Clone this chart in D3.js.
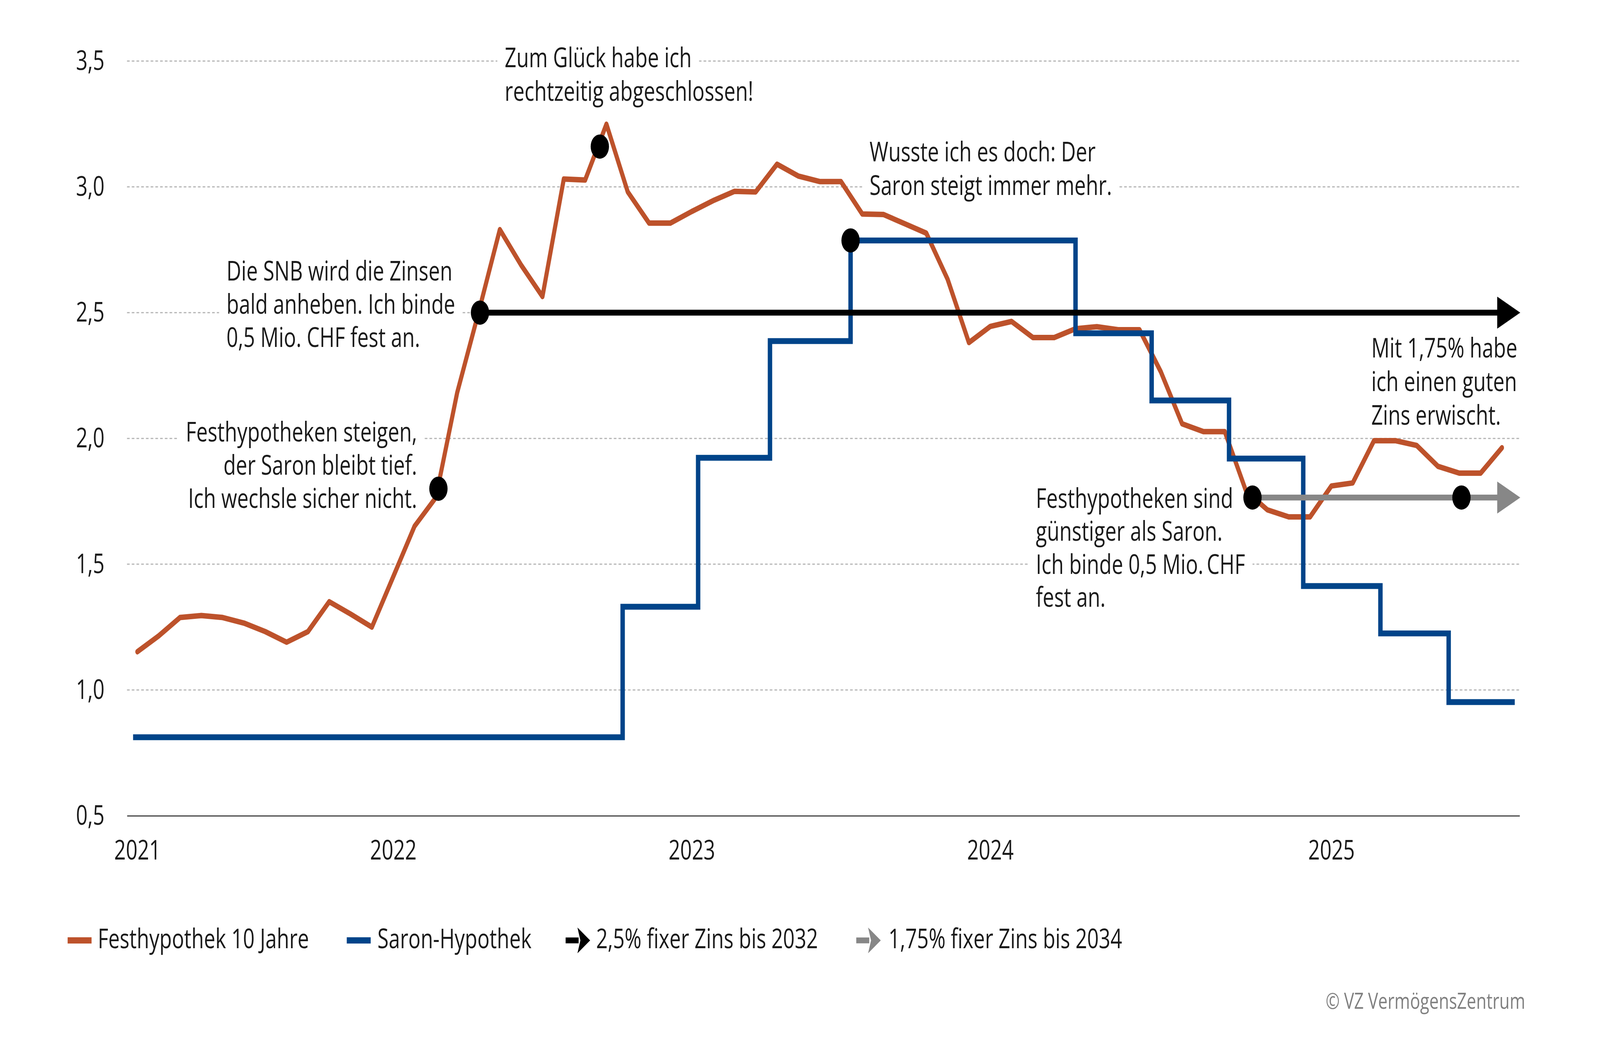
<!DOCTYPE html>
<html>
<head>
<meta charset="utf-8">
<script src="https://cdn.jsdelivr.net/npm/d3@7"></script>
<style>
  html, body { margin: 0; padding: 0; background: #ffffff; overflow: hidden; width: 100%; height: 100%; }
  svg { display: block; width: 100vw; height: 100vh; }
  text { font-family: "Open Sans", "Noto Sans", sans-serif; }
</style>
</head>
<body>
<svg id="chart" viewBox="0 0 5417 2708" preserveAspectRatio="none"></svg>
<script>
// ---------------- DATA ----------------
// Festhypothek 10 Jahre (one value per period, index 0 = start of 2021)
const festValues = [
  1.152, 1.215, 1.288, 1.296, 1.288, 1.266, 1.232, 1.190, 1.232, 1.351,
  1.302, 1.250, 1.450, 1.651, 1.765, 2.182, 2.500, 2.830, 2.689, 2.564,
  3.031, 3.027, 3.249, 2.980, 2.856, 2.856, 2.902, 2.945, 2.982, 2.980,
  3.090, 3.043, 3.021, 3.021, 2.892, 2.890, 2.853, 2.816, 2.633, 2.381,
  2.445, 2.465, 2.401, 2.401, 2.436, 2.444, 2.432, 2.432, 2.265, 2.058,
  2.027, 2.027, 1.790, 1.716, 1.688, 1.688, 1.811, 1.823, 1.991, 1.991,
  1.972, 1.889, 1.862, 1.862, 1.963
];
// Saron-Hypothek: step start (period index) and level
const saronStart  = [-0.2, 22.76, 26.3, 29.67, 33.45, 44.0, 47.57, 51.2, 54.68, 58.3, 61.5];
const saronLevels = [0.812, 1.331, 1.923, 2.387, 2.787, 2.418, 2.151, 1.920, 1.413, 1.225, 0.952];
const saronEnd = 64.6;

// Fixed-rate arrows
const fixLevels = [2.5, 1.765];
const fixStart  = [16.07, 52.3];
const fixNames  = ["2,5% fixer Zins bis 2032", "1,75% fixer Zins bis 2034"];

// Event dots
const dotIndex  = [14.12, 16.07, 21.69, 33.45, 52.3, 62.1];
const dotValues = [1.80, 2.5, 3.16, 2.787, 1.765, 1.765];

// Axes
const yTicks = [0.5, 1.0, 1.5, 2.0, 2.5, 3.0, 3.5];
const yearLabels = ["2021", "2022", "2023", "2024", "2025"];
const yearIndex  = [0, 12, 26, 40, 56];

// Series names
const seriesNames = ["Festhypothek 10 Jahre", "Saron-Hypothek"];

// Annotation texts
const noteA = ["Festhypotheken steigen,", "der Saron bleibt tief.", "Ich wechsle sicher nicht."];
const noteB = ["Die SNB wird die Zinsen", "bald anheben. Ich binde", "0,5 Mio. CHF fest an."];
const noteC = ["Zum Glück habe ich", "rechtzeitig abgeschlossen!"];
const noteD = ["Wusste ich es doch: Der", "Saron steigt immer mehr."];
const noteE = ["Festhypotheken sind", "günstiger als Saron.", "Ich binde 0,5 Mio.\u2009CHF", "fest an."];
const noteF = ["Mit 1,75% habe", "ich einen guten", "Zins erwischt."];
const sourceText = "© VZ VermögensZentrum";

// ---------------- STYLE / LAYOUT ----------------
const COL_FEST = "#BD522B";
const COL_SARON = "#004489";
const COL_BLACK = "#000000";
const COL_GREY = "#878787";
const COL_TEXT = "#1a1a1a";
const FS = 69;

const svg = d3.select("#chart");
svg.append("rect").attr("width", 5417).attr("height", 2708).attr("fill", "#fff");

const x = d3.scaleLinear().domain([-0.485, 64.83]).range([430, 5145]);
const y = d3.scaleLinear().domain([0.5, 3.5]).range([2088, 156.3]);

const gridLayer = svg.append("g");
const boxLayer = svg.append("g");
const textLayer = svg.append("g");
const dataLayer = svg.append("g");
const axisLayer = svg.append("g");

// gridlines
gridLayer.selectAll("line.grid")
  .data(yTicks.filter(t => t > 0.5))
  .join("line")
  .attr("x1", x.range()[0]).attr("x2", x.range()[1])
  .attr("y1", d => y(d)).attr("y2", d => y(d))
  .attr("stroke", "#b5b5b5").attr("stroke-width", 3)
  .attr("stroke-dasharray", "9,7");

// y axis labels
const yAxis = d3.axisLeft(y).tickValues(yTicks).tickSize(0).tickPadding(76)
  .tickFormat(d => d3.format(".1f")(d).replace(".", ","));
const gy = axisLayer.append("g").attr("transform", `translate(${x.range()[0]},0)`).call(yAxis);
gy.select(".domain").remove();
gy.selectAll("text").attr("font-size", FS).attr("fill", COL_TEXT)
  .attr("font-family", '"Open Sans", sans-serif');

// x axis
const xAxis = d3.axisBottom(x).tickValues(yearIndex).tickSize(0).tickSizeOuter(0).tickPadding(63)
  .tickFormat((d, i) => yearLabels[i]);
const gx = axisLayer.append("g").attr("transform", `translate(0,${y(0.5)})`).call(xAxis);
gx.select(".domain").attr("stroke", "#222").attr("stroke-width", 2.5);
gx.selectAll("text").attr("font-size", FS).attr("fill", COL_TEXT)
  .attr("font-family", '"Open Sans", sans-serif');

// annotations: one text element per note, one tspan per line, white box behind each line
function note(lines, xi, v, anchor, lh) {
  const x0 = x(xi), y0 = y(v);
  const tx = textLayer.append("text")
    .attr("text-anchor", anchor)
    .attr("font-size", FS).attr("fill", COL_TEXT);
  lines.forEach((t, k) => {
    const ts = tx.append("tspan").attr("x", x0).attr("y", y0 + k * lh).text(t);
    const w = ts.node().getComputedTextLength();
    const left = anchor === "end" ? x0 - w : x0;
    boxLayer.append("rect")
      .attr("x", left - 25).attr("y", y0 + k * lh - 62)
      .attr("width", w + 50).attr("height", 84)
      .attr("fill", "#fff");
  });
}
note(noteA, 13.12, 1.988, "end", 85);
note(noteB, 4.18, 2.628, "start", 85);
note(noteC, 17.23, 3.4755, "start", 86);
note(noteD, 34.34, 3.1013, "start", 86);
note(noteE, 42.14, 1.724, "start", 84.5);
note(noteF, 57.87, 2.321, "start", 86);

// Festhypothek line
const festLine = d3.line().x((d, i) => x(i)).y(d => y(d));
dataLayer.append("path").datum(festValues)
  .attr("d", festLine)
  .attr("fill", "none").attr("stroke", COL_FEST).attr("stroke-width", 14)
  .attr("stroke-linejoin", "round").attr("stroke-linecap", "round");

// Saron step line
const saronPts = saronStart.map((s, i) => [s, saronLevels[i]]);
saronPts.push([saronEnd, saronLevels[saronLevels.length - 1]]);
const saronLine = d3.line().x(d => x(d[0])).y(d => y(d[1])).curve(d3.curveStepAfter);
dataLayer.append("path").datum(saronPts)
  .attr("d", saronLine)
  .attr("fill", "none").attr("stroke", COL_SARON).attr("stroke-width", 15)
  .attr("stroke-linejoin", "miter").attr("stroke-linecap", "butt");

// fixed-rate arrows
const arrowCols = [COL_BLACK, COL_GREY];
fixLevels.forEach((lv, i) => {
  const yy = y(lv), tip = x.range()[1] + 2, headL = 78, headH = 82;
  dataLayer.append("line")
    .attr("x1", x(fixStart[i])).attr("x2", tip - headL + 2)
    .attr("y1", yy).attr("y2", yy)
    .attr("stroke", arrowCols[i]).attr("stroke-width", 15);
  dataLayer.append("path")
    .attr("d", `M${tip - headL},${yy - headH / 2}L${tip},${yy}L${tip - headL},${yy + headH / 2}Z`)
    .attr("fill", arrowCols[i]);
});

// dots
dataLayer.selectAll("circle.ev")
  .data(dotIndex.map((d, i) => [d, dotValues[i]]))
  .join("circle")
  .attr("cx", d => x(d[0])).attr("cy", d => y(d[1]))
  .attr("r", 31).attr("fill", "#000");

// legend
const legY = 2407, legBase = 2427;
const legMarkX = [229, 1174, 1915, 2899];
const legTextX = [331, 1278, 2018, 3008];
const leg = svg.append("g");
[COL_FEST, COL_SARON].forEach((c, i) => {
  leg.append("rect").attr("x", legMarkX[i]).attr("y", legY - 8)
    .attr("width", 81).attr("height", 16).attr("fill", c);
  leg.append("text").attr("x", legTextX[i]).attr("y", legBase)
    .attr("font-size", FS).attr("fill", COL_TEXT).text(seriesNames[i]);
});
fixNames.forEach((n, i) => {
  const mx = legMarkX[i + 2];
  leg.append("rect").attr("x", mx).attr("y", legY - 7.5)
    .attr("width", 44).attr("height", 15).attr("fill", arrowCols[i]);
  leg.append("path")
    .attr("d", `M${mx + 40},${legY - 33}L${mx + 83},${legY}L${mx + 40},${legY + 33}L${mx + 50},${legY}Z`)
    .attr("fill", arrowCols[i]);
  leg.append("text").attr("x", legTextX[i + 2]).attr("y", legBase)
    .attr("font-size", FS).attr("fill", COL_TEXT).text(n);
});

// source
svg.append("text").attr("x", 5164).attr("y", 2582).attr("text-anchor", "end")
  .attr("font-size", 57).attr("fill", "#808080").text(sourceText);
</script>
</body>
</html>
